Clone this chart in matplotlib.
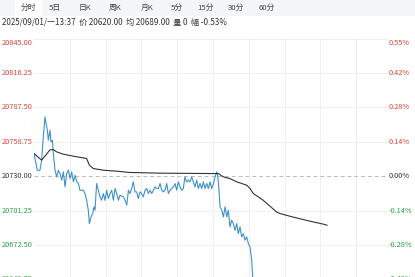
import numpy as np
import matplotlib
matplotlib.use("Agg")
import matplotlib.pyplot as plt
from matplotlib.patches import Rectangle
import matplotlib.transforms as mtransforms

plt.rcParams['font.family'] = ['Noto Sans CJK SC', 'DejaVu Sans']

# 数据: 分钟(自开盘起), 价格
tabs = ['分时', '5日', '日K', '周K', '月K', '5分', '15分', '30分', '60分']
tab_x = [28, 55, 85, 115, 147, 177, 206, 236, 267]

base = 20730.0
step = 28.75
price_ticks = [base + step * k for k in range(4, -5, -1)]

price_t = [0, 2.8, 5.0, 6.4, 7.8, 9.2, 10.1, 11.2, 12.0, 13.4, 14.2, 15.4, 16.2, 17.6,
           19.0, 20.4, 21.8, 23.2, 24.6, 26.0, 27.4, 28.8, 30.2, 31.6, 33.0, 34.4, 35.8,
           37.2, 38.5, 41.3, 42.7, 44.1, 45.5, 46.4, 47.8, 49.2, 50.3, 51.1, 52.5, 53.9,
           55.3, 56.7, 58.1, 59.5, 60.9, 62.3, 63.7, 65.1, 66.5, 67.9, 69.3, 70.7, 72.1,
           74.9, 76.3, 77.7, 79.1, 80.4, 81.8, 83.2, 84.6, 86.0, 87.4, 88.8, 90.2, 91.6,
           93.0, 94.4, 95.8, 97.2, 98.6, 100.0, 101.4, 102.8, 104.2, 105.6, 107.0, 108.4,
           109.8, 111.2, 112.6, 114.0, 115.4, 116.8, 118.2, 119.6, 120.9, 122.3, 123.7,
           125.1, 126.5, 127.9, 129.3, 130.7, 132.1, 133.5, 134.9, 136.3, 137.7, 139.1,
           140.5, 141.9, 143.3, 144.7, 146.1, 147.5, 148.9, 150.3, 151.7, 153.1, 153.9,
           155.0, 155.9, 157.3, 158.7, 160.1, 161.5, 162.8, 164.2, 165.6, 167.0, 168.4,
           169.8, 171.2, 172.6, 174.0, 175.4, 176.8, 178.2, 179.6, 181.0, 182.4, 183.2,
           190, 200, 215, 230, 245.5]
price_v = [20748.9, 20735.0, 20735.0, 20743.4, 20762.9, 20779.6, 20774.0, 20768.4, 20760.1,
           20768.4, 20758.7, 20760.1, 20748.9, 20735.0, 20729.4, 20735.0, 20732.2, 20726.7,
           20733.6, 20721.1, 20732.2, 20735.0, 20728.0, 20733.6, 20725.3, 20730.8, 20725.3,
           20723.9, 20718.3, 20718.3, 20715.5, 20709.9, 20701.6, 20690.4, 20696.0, 20698.8,
           20704.4, 20701.6, 20723.9, 20718.3, 20712.7, 20709.9, 20715.5, 20709.9, 20718.3,
           20711.3, 20715.5, 20718.3, 20709.9, 20719.7, 20715.5, 20709.9, 20714.1, 20712.7,
           20709.9, 20705.8, 20718.3, 20715.5, 20719.7, 20725.3, 20716.9, 20716.9, 20711.3,
           20716.9, 20715.5, 20712.7, 20718.3, 20719.7, 20715.5, 20718.3, 20715.5, 20718.3,
           20721.1, 20719.7, 20719.7, 20723.9, 20718.3, 20716.9, 20718.3, 20723.9, 20715.5,
           20718.3, 20719.7, 20721.1, 20723.9, 20718.3, 20725.3, 20721.1, 20718.3, 20719.7,
           20729.4, 20725.3, 20726.7, 20725.3, 20729.4, 20725.3, 20721.1, 20726.7, 20719.7,
           20723.9, 20719.7, 20725.3, 20719.7, 20723.9, 20719.7, 20725.3, 20719.7, 20723.9,
           20729.4, 20733.6, 20730.8, 20718.3, 20704.4, 20701.6, 20696.0, 20704.4, 20696.0,
           20701.6, 20687.6, 20693.2, 20690.4, 20684.8, 20690.4, 20682.0, 20687.6, 20679.3,
           20682.0, 20676.5, 20679.3, 20673.7, 20670.9, 20659.8, 20645.9,
           20636.0, 20630.0, 20625.0, 20622.0, 20620.0]

avg_t = [0, 6.4, 13.4, 16.2, 19.0, 24.6, 33.0, 41.3, 44.1, 46.4, 49.7, 58.1, 69.3, 80.4,
         108.4, 151.7, 154.5, 158.7, 164.2, 169.8, 178.2, 181.0, 183.8, 191.9, 203.4,
         206.2, 214.5, 225.4, 233.8, 242.2, 245.5]
avg_v = [20748.9, 20743.4, 20752.0, 20752.3, 20750.3, 20748.4, 20746.7, 20745.3, 20744.8,
         20739.2, 20736.4, 20735.0, 20734.2, 20733.1, 20732.5, 20732.2, 20732.2, 20729.4,
         20728.0, 20725.3, 20722.5, 20719.7, 20715.5, 20710.0, 20700.0, 20698.8, 20696.5,
         20693.8, 20691.8, 20690.0, 20689.0]

W, H = 415, 277
fig = plt.figure(figsize=(W / 100, H / 100), dpi=100)
fig.patch.set_facecolor('white')

# 顶部标签栏
fig.patches.append(Rectangle((0, 1 - 16 / H), 1, 16 / H, transform=fig.transFigure,
                             facecolor='#f4f5f7', edgecolor='none', zorder=0))
fig.patches.append(Rectangle((15 / W, 1 - 16 / H), 27 / W, 16 / H, transform=fig.transFigure,
                             facecolor='white', edgecolor='none', zorder=0))
for lab, x in zip(tabs, tab_x):
    fig.text(x / W, 1 - 8 / H, lab, ha='center', va='center', fontsize=5.6, color='#444444')

fig.text(2 / W, 1 - 22.5 / H, '2025/09/01/一13:37  价 20620.00  均 20689.00  量 0  幅 -0.53%',
         ha='left', va='center', fontsize=5.8, color='#333333')

# 主图
y_top = 38.6
px_per_step = 34.4
y_bot = y_top + 8 * px_per_step
left, right = 34 / W, 388 / W
ax = fig.add_axes([left, 1 - y_bot / H, right - left, (y_bot - y_top) / H])
ax.set_xlim(0, 296.6)
ax.set_ylim(price_ticks[-1], price_ticks[0])
for s in ax.spines.values():
    s.set_visible(False)
ax.set_xticks([])
ax.set_yticks([])

for v in price_ticks:
    if v == base:
        ax.axhline(v, color='#bbbbbb', lw=0.7, ls=(0, (4, 3)), zorder=1)
    else:
        ax.axhline(v, color='#eeeeee', lw=0.6, zorder=0)
for t in range(30, 296, 30):
    ax.axvline(t, color='#eeeeee', lw=0.6, zorder=0)

ax.plot(price_t, price_v, color='#3f91cc', lw=0.8, zorder=3)
ax.plot(avg_t, avg_v, color='#333333', lw=0.8, zorder=4)

# 坐标标签
trans_l = mtransforms.blended_transform_factory(fig.transFigure, ax.transData)
for i, v in enumerate(price_ticks):
    pct = (v - base) / base * 100
    if v > base:
        col = '#e0413a'
    elif v < base:
        col = '#2ea043'
    else:
        col = '#333333'
    va = 'top' if i == 0 else 'center'
    ax.text(2 / W, v, f'{v:.2f}', transform=trans_l, ha='left', va=va,
            fontsize=5.3, color=col, clip_on=False)
    ax.text(389 / W, v, f'{pct:.2f}%', transform=trans_l, ha='left', va=va,
            fontsize=5.3, color=col, clip_on=False)

fig.savefig('out.png', dpi=100)
